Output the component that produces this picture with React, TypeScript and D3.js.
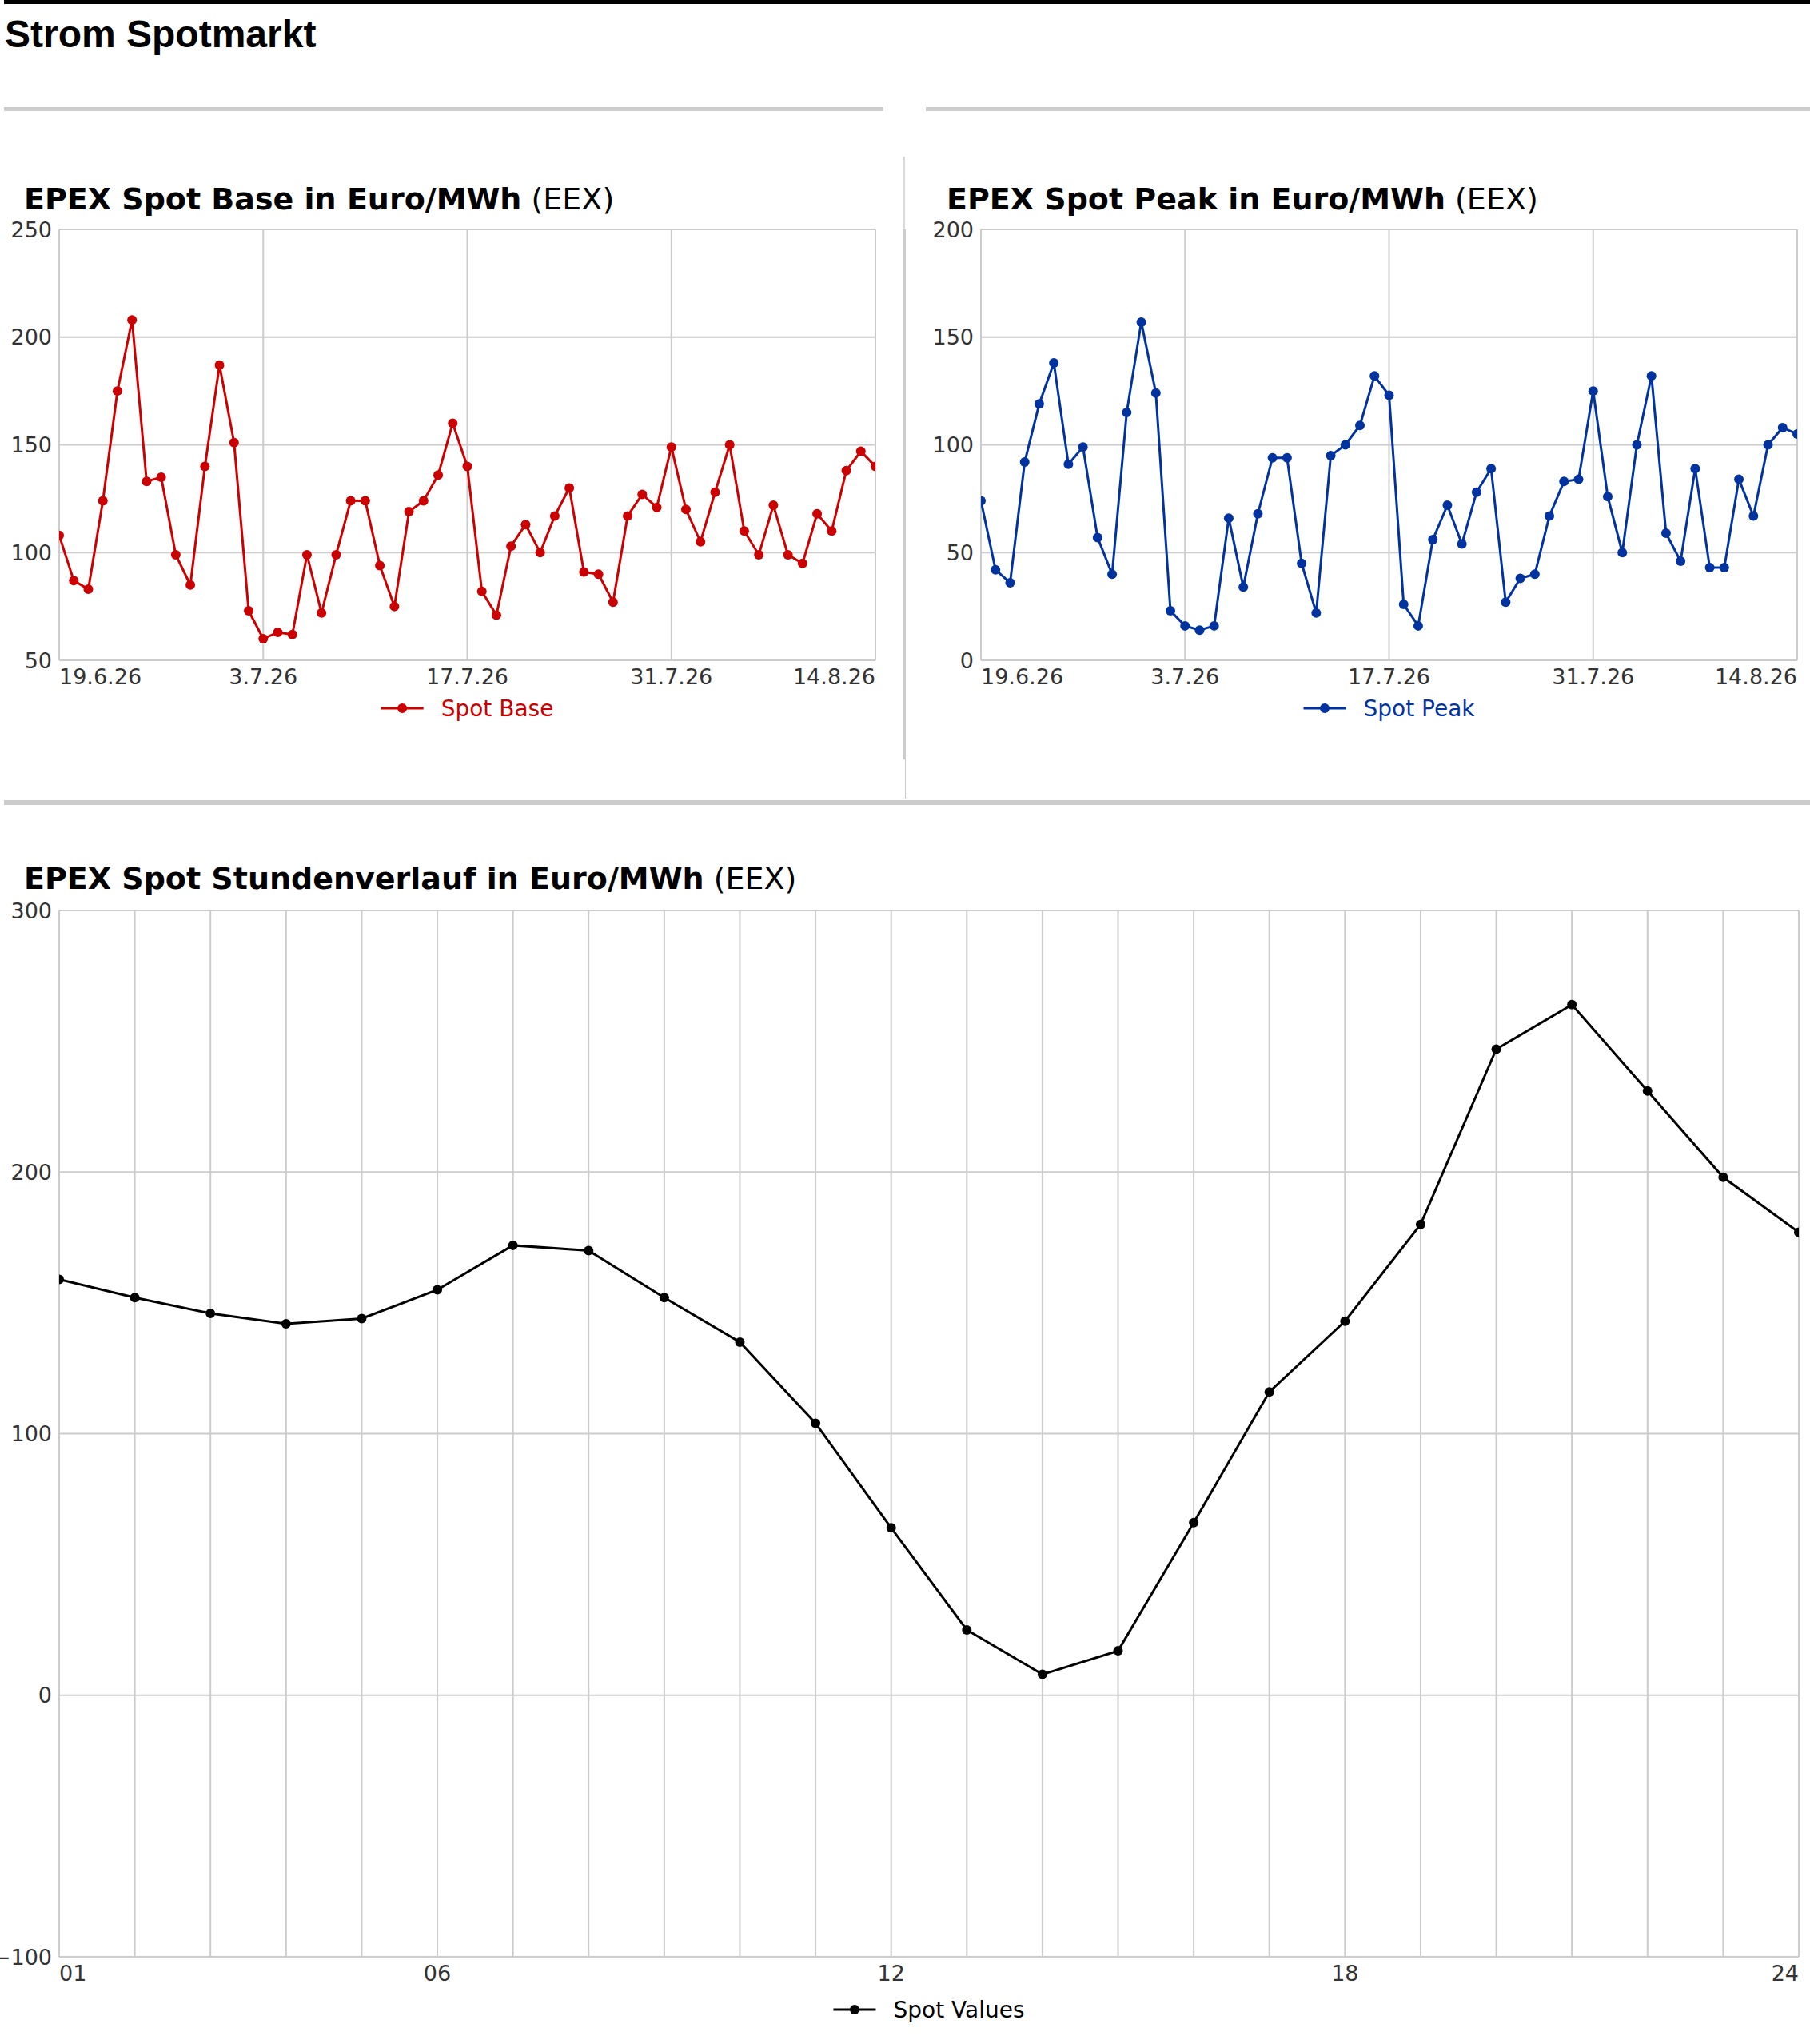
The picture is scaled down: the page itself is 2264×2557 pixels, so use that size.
import React from "react";
import * as d3 from "d3";

// EPEX Spot Base / Peak, daily, 19.6.26 - 14.8.26
const startDay = new Date(2026, 5, 19);
const endDay = new Date(2026, 7, 14);
const days = d3.timeDay.range(startDay, d3.timeDay.offset(endDay, 1));

const baseValues = [
  108, 87, 83, 124, 175, 208, 133, 135, 99, 85, 140, 187, 151, 73, 60, 63, 62, 99, 72, 99,
  124, 124, 94, 75, 119, 124, 136, 160, 140, 82, 71, 103, 113, 100, 117, 130, 91, 90, 77,
  117, 127, 121, 149, 120, 105, 128, 150, 110, 99, 122, 99, 95, 118, 110, 138, 147, 140,
];

const peakValues = [
  74, 42, 36, 92, 119, 138, 91, 99, 57, 40, 115, 157, 124, 23, 16, 14, 16, 66, 34, 68, 94,
  94, 45, 22, 95, 100, 109, 132, 123, 26, 16, 56, 72, 54, 78, 89, 27, 38, 40, 67, 83, 84,
  125, 76, 50, 100, 132, 59, 46, 89, 43, 43, 84, 67, 100, 108, 105,
];

const dateTicks = [
  new Date(2026, 5, 19),
  new Date(2026, 6, 3),
  new Date(2026, 6, 17),
  new Date(2026, 6, 31),
  new Date(2026, 7, 14),
];

const baseTicks = [50, 100, 150, 200, 250];
const peakTicks = [0, 50, 100, 150, 200];

// hourly profile
const hours = [1, 2, 3, 4, 5, 6, 7, 8, 9, 10, 11, 12, 13, 14, 15, 16, 17, 18, 19, 20, 21, 22, 23, 24];
const hourValues = [
  159, 152, 146, 142, 144, 155, 172, 170, 152, 135, 104, 64, 25, 8, 17, 66, 116, 143, 180, 247,
  264, 231, 198, 177,
];
const hourTicks = [1, 6, 12, 18, 24];
const hourYTicks = [-100, 0, 100, 200, 300];

const GRID = "#cccccc";
const TICK_FONT = "DejaVu Sans, sans-serif";

const measure = (txt: string, font: string) => {
  const ctx = document.createElement("canvas").getContext("2d");
  if (!ctx) return txt.length * 16;
  ctx.font = font;
  return ctx.measureText(txt).width;
};

type ChartProps<X> = {
  id: string;
  left: number;
  right: number;
  top: number;
  bottom: number;
  xs: X[];
  ys: number[];
  x: (v: X) => number;
  y: d3.ScaleLinear<number, number>;
  xGrid: X[];
  xTicks: { v: X; label: string }[];
  yTicks: number[];
  color: string;
  label: string;
  legendOffset: number;
  title: string;
  titleX: number;
  titleY: number;
  lineWidth: number;
  r: number;
};

function Chart<X>(p: ChartProps<X>) {
  const line = d3
    .line<number>()
    .x((_, i) => p.x(p.xs[i]))
    .y((d) => p.y(d));
  const cx = (p.left + p.right) / 2;
  const textW = measure(p.label, `28px DejaVu Sans`);
  const legW = 53 + 22 + textW;
  const legX = cx - legW / 2;
  const legY = p.bottom + p.legendOffset;
  return (
    <g>
      <text x={p.titleX} y={p.titleY} fontFamily={TICK_FONT} fontSize={38} fill="#000">
        <tspan fontWeight="bold">{p.title}</tspan>
        <tspan> (EEX)</tspan>
      </text>
      {p.yTicks.map((t) => (
        <g key={"y" + t}>
          <line x1={p.left} x2={p.right} y1={p.y(t)} y2={p.y(t)} stroke={GRID} strokeWidth={2} />
          <text
            x={p.left - 9}
            y={p.y(t)}
            dy="0.36em"
            textAnchor="end"
            fontFamily={TICK_FONT}
            fontSize={27}
            fill="#333"
          >
            {String(t).replace("-", "\u2212")}
          </text>
        </g>
      ))}
      {p.xGrid.map((v, i) => (
        <line
          key={"xg" + i}
          x1={p.x(v)}
          x2={p.x(v)}
          y1={p.top}
          y2={p.bottom}
          stroke={GRID}
          strokeWidth={2}
        />
      ))}
      {p.xTicks.map((t, i) => {
        const first = i === 0;
        const last = i === p.xTicks.length - 1;
        return (
          <text
            key={"xt" + i}
            x={first ? p.left : last ? p.right : p.x(t.v)}
            y={p.bottom + 30}
            textAnchor={first ? "start" : last ? "end" : "middle"}
            fontFamily={TICK_FONT}
            fontSize={27}
            fill="#333"
          >
            {t.label}
          </text>
        );
      })}
      <clipPath id={p.id}>
        <rect x={p.left} y={p.top - 20} width={p.right - p.left} height={p.bottom - p.top + 40} />
      </clipPath>
      <g clipPath={`url(#${p.id})`}>
        <path d={line(p.ys) ?? ""} fill="none" stroke={p.color} strokeWidth={p.lineWidth} />
        {p.ys.map((d, i) => (
          <circle key={i} cx={p.x(p.xs[i])} cy={p.y(d)} r={p.r} fill={p.color} />
        ))}
      </g>
      <line x1={legX} x2={legX + 53} y1={legY} y2={legY} stroke={p.color} strokeWidth={3} />
      <circle cx={legX + 26.5} cy={legY} r={6} fill={p.color} />
      <text
        x={legX + 75}
        y={legY}
        dy="0.36em"
        fontFamily={TICK_FONT}
        fontSize={28}
        fill={p.color}
      >
        {p.label}
      </text>
    </g>
  );
}

const fmtDate = (d: Date) => `${d.getDate()}.${d.getMonth() + 1}.${String(d.getFullYear()).slice(2)}`;

export default function App() {
  const W = 2264;
  const H = 2557;

  const p1 = { left: 74, right: 1095, top: 287, bottom: 826 };
  const p2 = { left: 1227, right: 2248, top: 287, bottom: 826 };
  const p3 = { left: 74, right: 2250, top: 1139, bottom: 2448 };

  const x1 = d3.scaleTime().domain([startDay, endDay]).range([p1.left, p1.right]);
  const y1 = d3.scaleLinear().domain([50, 250]).range([p1.bottom, p1.top]);
  const x2 = d3.scaleTime().domain([startDay, endDay]).range([p2.left, p2.right]);
  const y2 = d3.scaleLinear().domain([0, 200]).range([p2.bottom, p2.top]);
  const x3 = d3.scaleLinear().domain([1, 24]).range([p3.left, p3.right]);
  const y3 = d3.scaleLinear().domain([-100, 300]).range([p3.bottom, p3.top]);

  const dTicks = dateTicks.map((d) => ({ v: d, label: fmtDate(d) }));
  const hTicks = hourTicks.map((h) => ({ v: h, label: String(h).padStart(2, "0") }));

  return (
    <svg
      width={W}
      height={H}
      style={{ position: "absolute", left: 0, top: 0, background: "#fff" }}
    >
      <rect x={0} y={0} width={W} height={H} fill="#fff" />
      <rect x={5} y={0} width={W - 5} height={5} fill="#000" />
      <text
        x={6}
        y={59}
        fontFamily="Liberation Sans, Arial, sans-serif"
        fontWeight="bold"
        fontSize={48}
        fill="#000"
      >
        Strom Spotmarkt
      </text>
      <rect x={5} y={134} width={1100} height={5} fill={GRID} />
      <rect x={1158} y={134} width={W - 1158} height={5} fill={GRID} />

      {/* divider between the two upper charts */}
      <line x1={1131} x2={1131} y1={196} y2={287} stroke={GRID} strokeWidth={1.5} />
      <rect x={1129} y={287} width={4} height={663} fill={GRID} />
      <line x1={1129.5} x2={1129.5} y1={950} y2={999} stroke={GRID} strokeWidth={1} />
      <line x1={1132.5} x2={1132.5} y1={950} y2={999} stroke={GRID} strokeWidth={1} />
      <rect x={5} y={1001} width={W - 5} height={6} fill={GRID} />

      <Chart
        id="c1"
        {...p1}
        xs={days}
        ys={baseValues}
        x={(d: Date) => x1(d)}
        y={y1}
        xGrid={dateTicks}
        xTicks={dTicks}
        yTicks={baseTicks}
        color="#cc0000"
        label="Spot Base"
        legendOffset={60}
        title="EPEX Spot Base in Euro/MWh"
        titleX={30}
        titleY={262}
        lineWidth={3}
        r={6}
      />
      <Chart
        id="c2"
        {...p2}
        xs={days}
        ys={peakValues}
        x={(d: Date) => x2(d)}
        y={y2}
        xGrid={dateTicks}
        xTicks={dTicks}
        yTicks={peakTicks}
        color="#0033a0"
        label="Spot Peak"
        legendOffset={60}
        title="EPEX Spot Peak in Euro/MWh"
        titleX={1184}
        titleY={262}
        lineWidth={3}
        r={6}
      />
      <Chart
        id="c3"
        {...p3}
        xs={hours}
        ys={hourValues}
        x={(h: number) => x3(h)}
        y={y3}
        xGrid={hours}
        xTicks={hTicks}
        yTicks={hourYTicks}
        color="#000000"
        label="Spot Values"
        legendOffset={66}
        title="EPEX Spot Stundenverlauf in Euro/MWh"
        titleX={30}
        titleY={1112}
        lineWidth={3}
        r={6}
      />
    </svg>
  );
}
